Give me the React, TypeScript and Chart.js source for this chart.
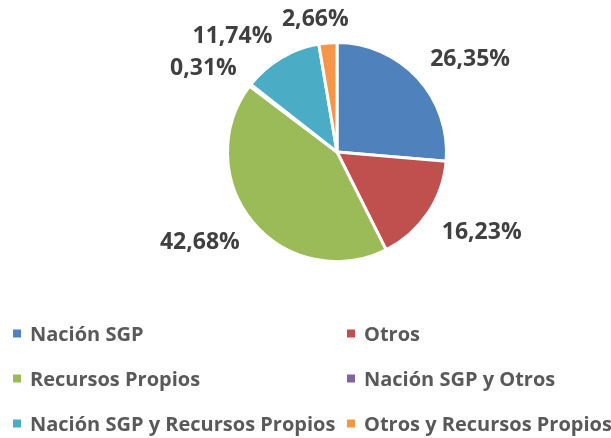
import React, { useEffect, useRef } from "react";
import { Chart, registerables } from "chart.js";

Chart.register(...registerables);

const categories = [
  "Nación SGP",
  "Otros",
  "Recursos Propios",
  "Nación SGP y Otros",
  "Nación SGP y Recursos Propios",
  "Otros y Recursos Propios",
];
const shares = [26.35, 16.23, 42.68, 0.31, 11.74, 2.66];
const percentLabels = ["26,35%", "16,23%", "42,68%", "0,31%", "11,74%", "2,66%"];
const sliceColors = ["#4F81BD", "#C0504D", "#9BBB59", "#8064A2", "#4BACC6", "#F79646"];

const FONT = '"Open Sans", sans-serif';

const pctLabelPlugin = {
  id: "pctLabels",
  afterDatasetsDraw(chart: any) {
    const ctx = chart.ctx;
    const meta = chart.getDatasetMeta(0);
    const size = 23;
    const capH = size * 0.714;
    ctx.save();
    ctx.font = `bold ${size}px ${FONT}`;
    ctx.fillStyle = "#404040";
    ctx.textAlign = "center";
    ctx.textBaseline = "alphabetic";
    meta.data.forEach((arc: any, i: number) => {
      const p = arc.getProps(["x", "y", "startAngle", "endAngle", "outerRadius"], true);
      const mid = (p.startAngle + p.endAngle) / 2;
      const cx = Math.cos(mid);
      const sy = Math.sin(mid);
      const R = p.outerRadius + 17;
      const px = p.x + cx * R;
      const py = p.y + sy * R;
      const text = percentLabels[i];
      const w = ctx.measureText(text).width;
      const clamp = (v: number) => Math.max(-1, Math.min(1, v));
      const tx = px + (w / 2) * clamp(cx * 4);
      const ty = py + (capH / 2) * clamp(sy * 4);
      ctx.fillText(text, tx, ty + capH / 2);
    });
    ctx.restore();
  },
};

const legendPlugin = {
  id: "twoColLegend",
  afterDraw(chart: any) {
    const ctx = chart.ctx;
    const size = 20;
    const capH = size * 0.714;
    const colX = [13, 347];
    const rowY0 = 333.5;
    const rowGap = 45;
    ctx.save();
    ctx.font = `bold ${size}px ${FONT}`;
    ctx.textAlign = "left";
    ctx.textBaseline = "alphabetic";
    categories.forEach((name, i) => {
      const col = i % 2;
      const row = Math.floor(i / 2);
      const x = colX[col];
      const y = rowY0 + row * rowGap;
      ctx.fillStyle = sliceColors[i];
      ctx.fillRect(x, y - 4, 8, 8);
      ctx.fillStyle = "#595959";
      ctx.fillText(name, x + 17, y + capH / 2);
    });
    ctx.restore();
  },
};

export default function App() {
  const canvasRef = useRef<HTMLCanvasElement | null>(null);

  useEffect(() => {
    document.body.style.margin = "0";
    const canvas = canvasRef.current;
    if (!canvas) return;
    const chart = new Chart(canvas, {
      type: "pie",
      data: {
        labels: categories,
        datasets: [
          {
            data: shares,
            backgroundColor: sliceColors,
            borderColor: "#FFFFFF",
            borderWidth: 3,
          },
        ],
      },
      options: {
        animation: false,
        responsive: true,
        maintainAspectRatio: false,
        layout: { padding: { top: 41, bottom: 175, left: 226, right: 163 } },
        plugins: {
          legend: { display: false },
          tooltip: { enabled: false },
        },
      },
      plugins: [pctLabelPlugin, legendPlugin],
    });
    return () => chart.destroy();
  }, []);

  return (
    <div style={{ width: 611, height: 438, position: "relative", background: "#FFFFFF" }}>
      <canvas ref={canvasRef} />
    </div>
  );
}
